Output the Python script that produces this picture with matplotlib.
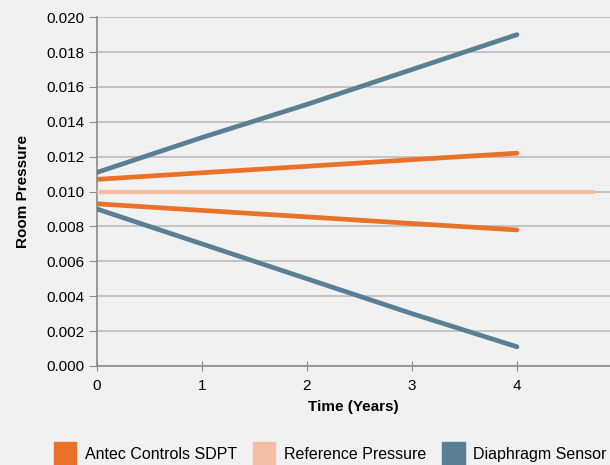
import matplotlib
matplotlib.use("Agg")
import matplotlib.pyplot as plt
from matplotlib.patches import Patch

plt.rcParams['font.family'] = ['Liberation Sans', 'DejaVu Sans']

years = [0, 1, 2, 3, 4]
antec_upper = [0.0107, 0.01108, 0.01145, 0.01183, 0.0122]
antec_lower = [0.0093, 0.00892, 0.00855, 0.00817, 0.0078]
diaph_upper = [0.0111, 0.0131, 0.0150, 0.0170, 0.0190]
diaph_lower = [0.0090, 0.0070, 0.0050, 0.0030, 0.0011]
ref_x = [0, 4.72]
ref_y = [0.010, 0.010]

c_antec = '#ea7128'
c_ref = '#f3bfa2'
c_diaph = '#5a7e94'
bg = '#f1f1f1'

fig = plt.figure(figsize=(6.1, 4.65), dpi=100, facecolor=bg)
ax = fig.add_axes([0.159, 0.213, 0.841, 0.75], facecolor=bg)

ax.plot(ref_x, ref_y, color=c_ref, lw=3.2, solid_capstyle='round', zorder=3)
ax.plot(years, antec_upper, color=c_antec, lw=3.4, solid_capstyle='round', zorder=4)
ax.plot(years, antec_lower, color=c_antec, lw=3.4, solid_capstyle='round', zorder=4)
ax.plot(years, diaph_upper, color=c_diaph, lw=3.4, solid_capstyle='round', zorder=4)
ax.plot(years, diaph_lower, color=c_diaph, lw=3.4, solid_capstyle='round', zorder=4)

ax.set_xlim(0, 4.886)
ax.set_ylim(0, 0.020)
ax.set_xticks(years)
ax.set_yticks([i * 0.002 for i in range(11)])
ax.yaxis.set_major_formatter(matplotlib.ticker.FormatStrFormatter('%.3f'))
ax.grid(axis='y', color='#bcbcbc', lw=1.2)
ax.set_axisbelow(True)
for s in ['top', 'right']:
    ax.spines[s].set_visible(False)
for s in ['left', 'bottom']:
    ax.spines[s].set_color('#8a8a8a')
    ax.spines[s].set_linewidth(1.2)
ax.tick_params(axis='y', length=6, color='#8a8a8a', labelsize=11, pad=3)
ax.tick_params(axis='x', direction='inout', length=7, color='#8a8a8a', labelsize=11, pad=6)

ax.set_xlabel('Time (Years)', fontsize=11, fontweight='bold', labelpad=5)
ax.set_ylabel('Room Pressure', fontsize=11, fontweight='bold', labelpad=12)

handles = [Patch(color=c_antec), Patch(color=c_ref), Patch(color=c_diaph)]
labels = ['Antec Controls SDPT', 'Reference Pressure', 'Diaphragm Sensor']
fig.legend(handles, labels, loc='upper left', bbox_to_anchor=(0.088, 0.05),
           ncol=3, frameon=False, fontsize=11.5, handlelength=1.4,
           handleheight=2.0, handletextpad=0.55, columnspacing=1.0,
           borderaxespad=0, borderpad=0)

fig.savefig('out.png', dpi=100, facecolor=bg)
